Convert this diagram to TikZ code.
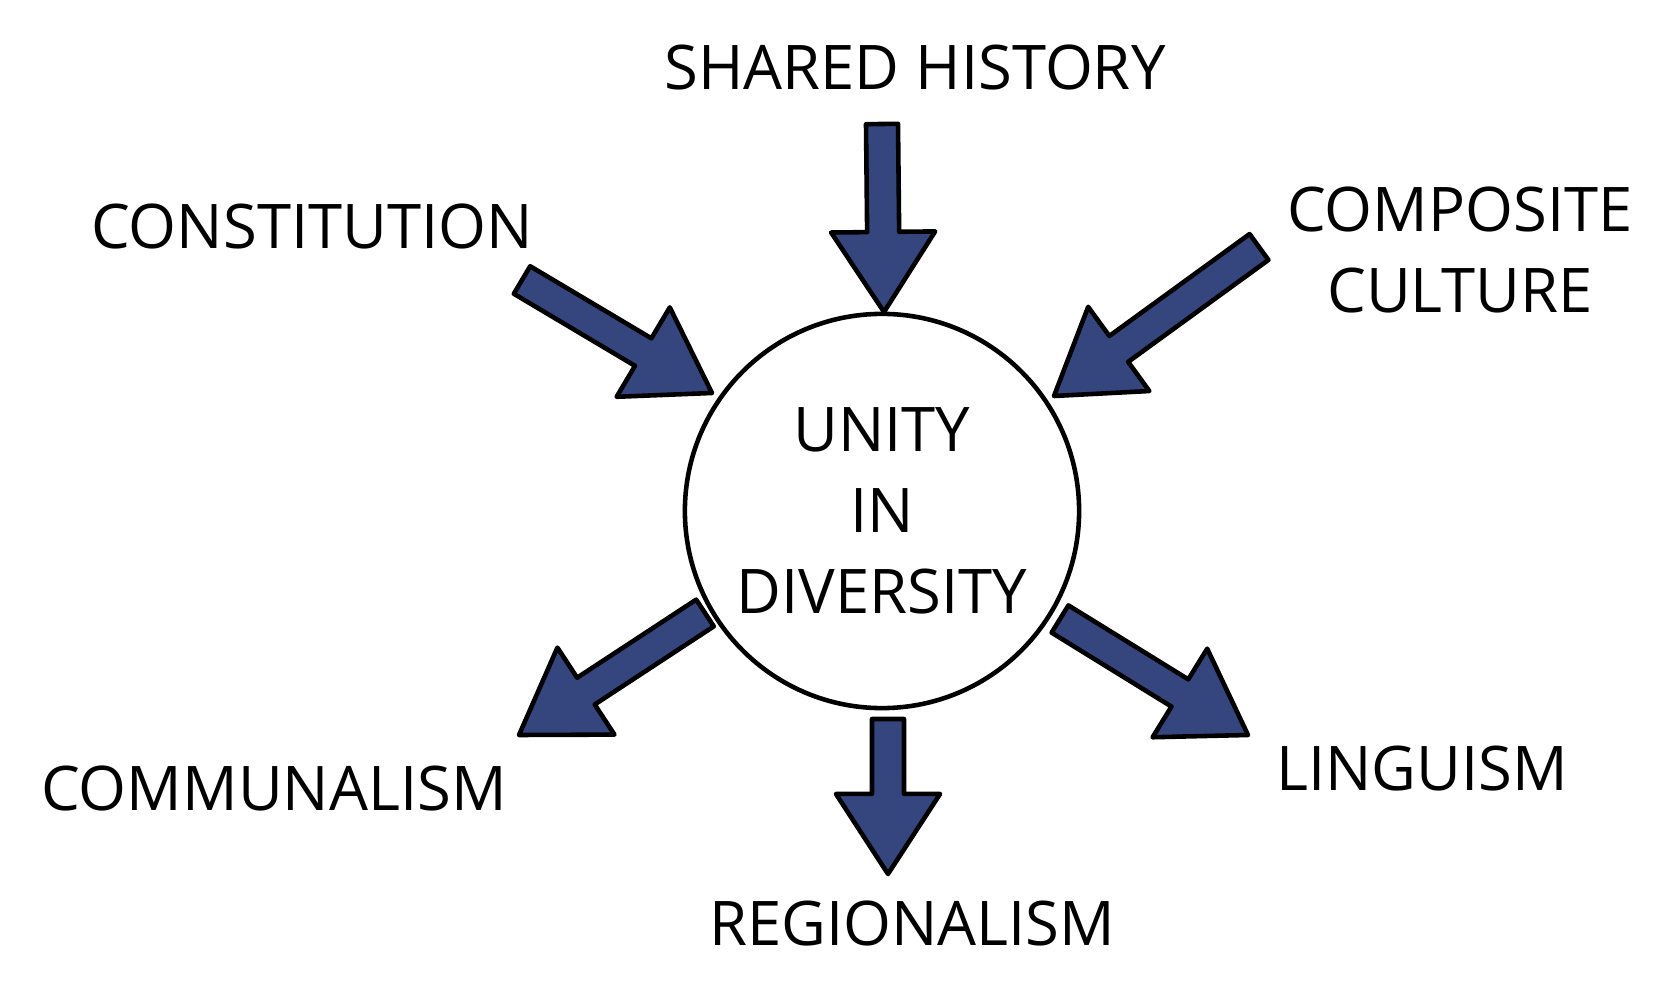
\documentclass[tikz,border=0pt]{standalone}
\usetikzlibrary{calc}
\usepackage{fontspec}
\setmainfont{Open Sans}
\definecolor{navy}{HTML}{35467F}
\tikzset{lbl/.style={font=\fontsize{17.5}{23}\selectfont, align=center, inner sep=0pt},
 fat/.style={fill=navy, draw=black, line width=1.3pt, line join=round}}
\newcommand\fatarrow[3]{% #1 start coord, #2 end coord, #3 id
 \coordinate (hb#3) at ($(#2)!0.8cm!(#1)$);
 \draw[fat] ($(#1)!0.16cm!90:(#2)$) -- ($(hb#3)!0.16cm!90:(#2)$) -- ($(hb#3)!0.52cm!90:(#2)$) -- (#2)
  -- ($(hb#3)!0.52cm!-90:(#2)$) -- ($(hb#3)!0.16cm!-90:(#2)$) -- ($(#1)!0.16cm!-90:(#2)$) -- cycle;}
\begin{document}
\begin{tikzpicture}[x=0.01cm,y=-0.01cm]
\useasboundingbox (0,0) rectangle (1678,982);
\node[circle, draw, line width=1.3pt, minimum size=3.94cm, lbl] (c) at (882,511) {UNITY\\IN\\DIVERSITY};
\node[lbl] (sh) at (915,67) {SHARED HISTORY};
\node[lbl] (co) at (312,226) {CONSTITUTION};
\node[lbl] (cc) at (1460,250) {COMPOSITE\\CULTURE};
\node[lbl] (cm) at (274,788) {COMMUNALISM};
\node[lbl] (re) at (912,923) {REGIONALISM};
\node[lbl] (li) at (1422,769) {LINGUISM};
\coordinate (a1) at (882,124); \coordinate (b1) at (884,312);
\coordinate (a2) at (522,280); \coordinate (b2) at (712,393);
\coordinate (a3) at (1259,247); \coordinate (b3) at (1054,396);
\coordinate (a4) at (705,613); \coordinate (b4) at (519,735);
\coordinate (a5) at (888,719); \coordinate (b5) at (888,874);
\coordinate (a6) at (1060,619); \coordinate (b6) at (1248,735);
\fatarrow{a1}{b1}{1}
\fatarrow{a2}{b2}{2}
\fatarrow{a3}{b3}{3}
\fatarrow{a4}{b4}{4}
\fatarrow{a5}{b5}{5}
\fatarrow{a6}{b6}{6}
\end{tikzpicture}
\end{document}
